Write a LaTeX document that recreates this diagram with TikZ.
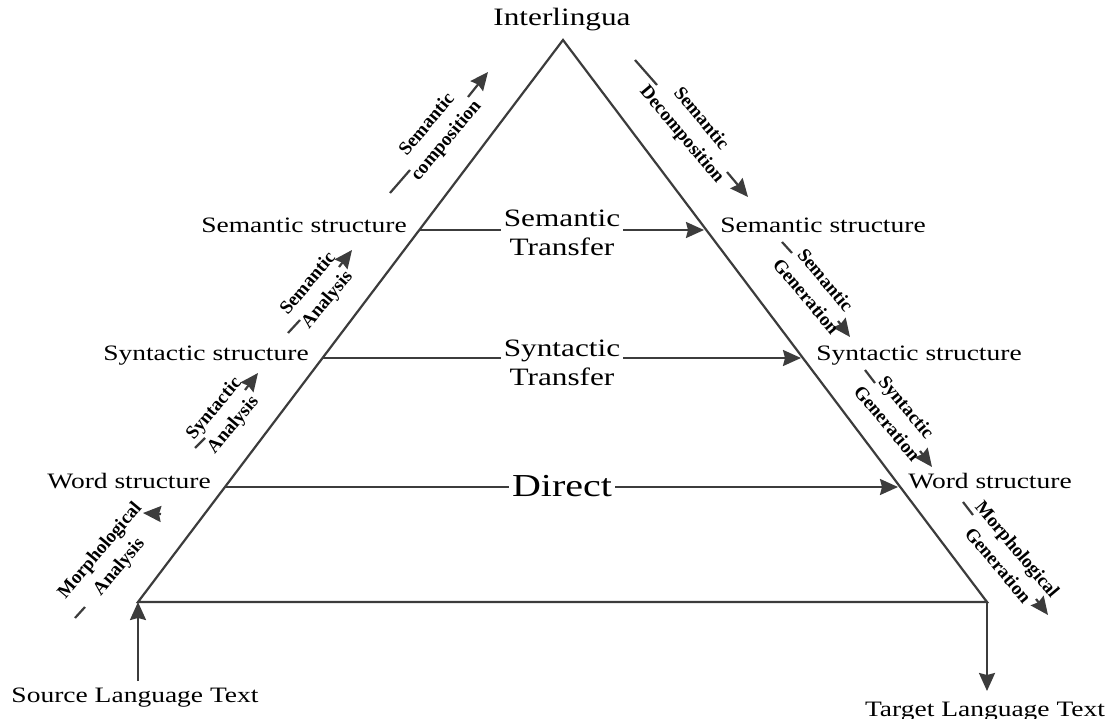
\documentclass[tikz,border=0pt]{standalone}
\usepackage{fontspec}
\setmainfont{Liberation Serif}[FakeStretch=1.25]
\newfontfamily\sidefont{Liberation Serif Bold}
\usetikzlibrary{arrows.meta}
\definecolor{ink}{RGB}{60,60,60}
\begin{document}
\begin{tikzpicture}[x=1pt,y=-1pt,
  edge/.style={draw=ink, line width=2.2pt},
  tip/.style={-{Stealth[length=18pt,width=16pt,inset=2pt]}},
  lbl/.style={font=\fontsize{22}{26}\selectfont, inner sep=0pt, anchor=base},
  xfer/.style={font=\fontsize{25}{29}\selectfont, align=center, fill=white, inner xsep=3pt, inner ysep=1pt},
  side/.style={font=\sidefont\fontsize{19}{25}\selectfont, align=center, inner sep=0pt},
]
\useasboundingbox (0,0) rectangle (1113,719);

% the pyramid
\coordinate (apex) at (563,40);
\coordinate (bl) at (138,602);
\coordinate (br) at (987,602);
\draw[edge, line join=miter] (apex) -- (br) -- (bl) -- cycle;

% level labels
\node[lbl, font=\fontsize{25}{29}\selectfont] (inter) at (562,26) {Interlingua};
\node[lbl] (semSL) at (304,233) {Semantic structure};
\node[lbl] (synSL) at (206,360) {Syntactic structure};
\node[lbl] (wrdSL) at (129,488) {Word structure};
\node[lbl] (semTL) at (823,233) {Semantic structure};
\node[lbl] (synTL) at (919,360) {Syntactic structure};
\node[lbl] (wrdTL) at (990,488) {Word structure};

% transfer arrows across the pyramid
\coordinate (semL) at (419,230);
\coordinate (semR) at (704,230);
\coordinate (synL) at (322,358);
\coordinate (synR) at (801,358);
\coordinate (dirL) at (225,487);
\coordinate (dirR) at (898,487);
\draw[edge, tip] (semL) -- (semR);
\draw[edge, tip] (synL) -- (synR);
\draw[edge, tip] (dirL) -- (dirR);
\node[xfer] (semX) at (562,233) {Semantic\\Transfer};
\node[xfer] (synX) at (562,363) {Syntactic\\Transfer};
\node[xfer, font=\fontsize{32}{36}\selectfont, inner ysep=0pt] (dirX) at (562,486) {Direct};

% source and target text
\node[lbl] (src) at (135,702) {Source Language Text};
\node[lbl] (tgt) at (985,716) {Target Language Text};
\coordinate (srcFoot) at (138,681);
\coordinate (tgtFoot) at (987,691);
\draw[edge, tip] (srcFoot) -- (bl);
\draw[edge, tip] (br) -- (tgtFoot);

% analysis side (left)
\coordinate (maA) at (75,618);  \coordinate (maB) at (85,607);
\coordinate (maC) at (161,514); \coordinate (maD) at (143,513);
\draw[edge] (maA) -- (maB);
\draw[edge, tip] (maC) -- (maD);
\node[side, rotate=50] (maT) at (110,559) {Morphological\\Analysis};

\coordinate (saA) at (195,448); \coordinate (saB) at (205,438);
\coordinate (saC) at (245,390); \coordinate (saD) at (258,373);
\draw[edge] (saA) -- (saB);
\draw[edge, tip] (saC) -- (saD);
\node[side, rotate=50] (saT) at (224,417) {Syntactic\\Analysis};

\coordinate (smA) at (288,333); \coordinate (smB) at (300,320);
\coordinate (smC) at (339,267); \coordinate (smD) at (352,250);
\draw[edge] (smA) -- (smB);
\draw[edge, tip] (smC) -- (smD);
\node[side, rotate=50] (smT) at (318,292) {Semantic\\Analysis};

\coordinate (scA) at (390,193); \coordinate (scB) at (410,170);
\coordinate (scC) at (468,97);  \coordinate (scD) at (488,72);
\draw[edge] (scA) -- (scB);
\draw[edge, tip] (scC) -- (scD);
\node[side, rotate=50] (scT) at (437,133) {Semantic\\composition};

% generation side (right)
\coordinate (sdA) at (635,60);  \coordinate (sdB) at (657,85);
\coordinate (sdC) at (727,172); \coordinate (sdD) at (748,197);
\draw[edge] (sdA) -- (sdB);
\draw[edge, tip] (sdC) -- (sdD);
\node[side, rotate=-50] (sdT) at (691,127) {Semantic\\Decomposition};

\coordinate (sgA) at (782,242); \coordinate (sgB) at (792,253);
\coordinate (sgC) at (838,321); \coordinate (sgD) at (850,337);
\draw[edge] (sgA) -- (sgB);
\draw[edge, tip] (sgC) -- (sgD);
\node[side, rotate=-50] (sgT) at (816,288) {Semantic\\Generation};

\coordinate (ygA) at (865,370); \coordinate (ygB) at (875,383);
\coordinate (ygC) at (920,451); \coordinate (ygD) at (932,467);
\draw[edge] (ygA) -- (ygB);
\draw[edge, tip] (ygC) -- (ygD);
\node[side, rotate=-50] (ygT) at (897,415) {Syntactic\\Generation};

\coordinate (mgA) at (963,502); \coordinate (mgB) at (973,515);
\coordinate (mgC) at (1036,599); \coordinate (mgD) at (1048,615);
\draw[edge] (mgA) -- (mgB);
\draw[edge, tip] (mgC) -- (mgD);
\node[side, rotate=-50] (mgT) at (1008,557) {Morphological\\Generation};
\end{tikzpicture}
\end{document}
